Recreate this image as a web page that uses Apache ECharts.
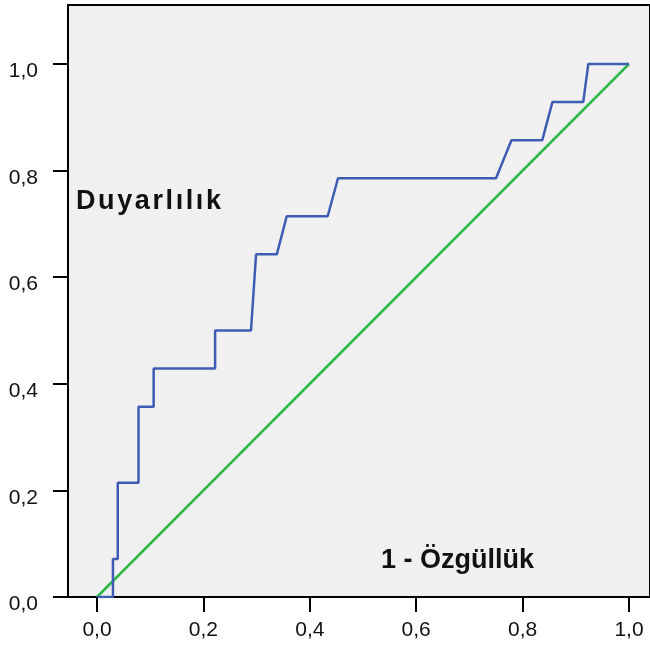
<!DOCTYPE html>
<html>
<head>
<meta charset="utf-8">
<script src="https://cdn.jsdelivr.net/npm/echarts@6/dist/echarts.min.js"></script>
<style>
html,body{margin:0;padding:0;background:#fff;}
#chart{width:650px;height:646px;}
</style>
</head>
<body>
<div id="chart"></div>
<script>
// ROC curve points: [1 - specificity, sensitivity]
const fpr = [0, 0.030, 0.030, 0.039, 0.039, 0.078, 0.078, 0.1065, 0.1065, 0.222, 0.222, 0.2895, 0.299, 0.338, 0.3566, 0.4336, 0.453, 0.750, 0.779, 0.837, 0.856, 0.914, 0.9235, 1.0];
const tpr = [0, 0, 0.0714, 0.0714, 0.2143, 0.2143, 0.3571, 0.3571, 0.4286, 0.4286, 0.5, 0.5, 0.6429, 0.6429, 0.7143, 0.7143, 0.7857, 0.7857, 0.8571, 0.8571, 0.9286, 0.9286, 1.0, 1.0];
// reference diagonal
const refX = [0, 1];
const refY = [0, 1];
const tickValues = [0, 0.2, 0.4, 0.6, 0.8, 1.0];
const yLabelText = 'Duyarlılık';
const xLabelText = '1 - Özgüllük';

const fmt = v => v.toFixed(1).replace('.', ',');
const chart = echarts.init(document.getElementById('chart'), null, {renderer: 'canvas'});
const font = '"Liberation Sans", Arial, sans-serif';
const spaced = s => Array.from(s).map(c => '{s|' + c + '}').join('');
chart.setOption({
  animation: false,
  backgroundColor: '#ffffff',
  grid: {left: 68, top: 5, right: 0, bottom: 49, show: true, backgroundColor: '#f0f0f0', borderColor: '#000', borderWidth: 2},
  xAxis: {
    type: 'value', min: -0.05451, max: 1.03947,
    axisLine: {show: true, onZero: false, lineStyle: {color: '#000', width: 2}},
    axisTick: {show: true, length: 15, lineStyle: {color: '#000', width: 2}, customValues: tickValues},
    axisLabel: {color: '#111', fontSize: 21, fontFamily: font, margin: 23, customValues: tickValues, formatter: fmt},
    splitLine: {show: false}
  },
  yAxis: {
    type: 'value', min: 0, max: 1.1107,
    axisLine: {show: true, onZero: false, lineStyle: {color: '#000', width: 2}},
    axisTick: {show: true, length: 15, lineStyle: {color: '#000', width: 2}, customValues: tickValues},
    axisLabel: {color: '#111', fontSize: 21, fontFamily: font, margin: 30, customValues: tickValues, formatter: fmt, verticalAlign: 'top', lineHeight: 15},
    splitLine: {show: false}
  },
  series: [
    {type: 'line', data: refX.map((x, i) => [x, refY[i]]), symbol: 'none', lineStyle: {color: '#2db84a', width: 2.5}, z: 2},
    {type: 'line', data: fpr.map((x, i) => [x, tpr[i]]), symbol: 'none', lineStyle: {color: '#3f5cb4', width: 2.5}, z: 3}
  ],
  graphic: [
    {type: 'text', left: 76, top: 188, style: {text: spaced(yLabelText), font: 'bold 27px ' + font, fill: '#111',
      rich: {s: {font: 'bold 27px ' + font, fill: '#111', color: '#111', padding: [0, 2.6, 0, 0]}}}},
    {type: 'text', left: 381, top: 547, style: {text: xLabelText, font: 'bold 27px ' + font, fill: '#111'}}
  ]
});
</script>
</body>
</html>
